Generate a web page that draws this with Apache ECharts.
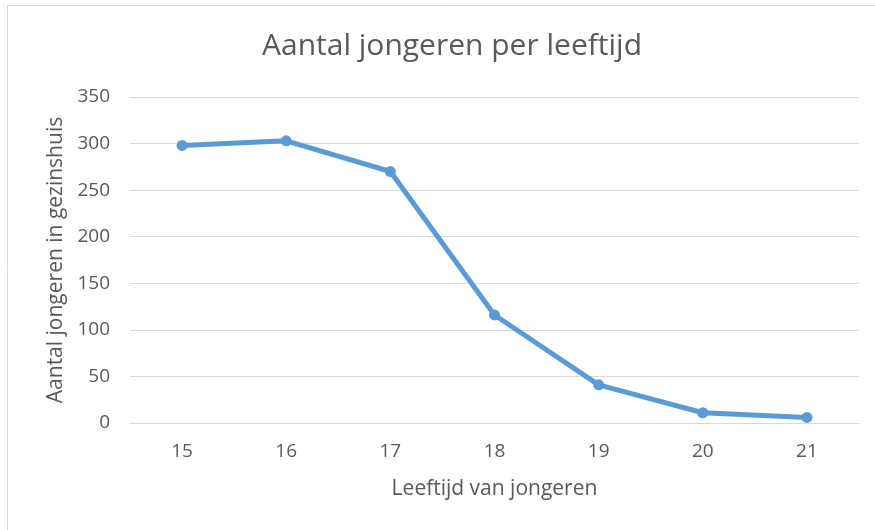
<!DOCTYPE html>
<html>
<head>
<meta charset="utf-8">
<script src="https://cdn.jsdelivr.net/npm/echarts@6/dist/echarts.min.js"></script>
<style>
html,body{margin:0;padding:0;background:#fff;}
#chart{width:875px;height:530px;}
</style>
</head>
<body>
<div id="chart"></div>
<script>
const categories = ['15', '16', '17', '18', '19', '20', '21'];
const values = [298, 303, 270, 116, 41, 11, 6];
const titleText = 'Aantal jongeren per leeftijd';
const xName = 'Leeftijd van jongeren';
const yName = 'Aantal jongeren in gezinshuis';

const chart = echarts.init(document.getElementById('chart'));
const font = 'Open Sans';
chart.setOption({
  backgroundColor: '#ffffff',
  animation: false,
  graphic: [{
    type: 'rect',
    shape: { x: 7.5, y: 5.5, width: 900, height: 600 },
    style: { fill: 'none', stroke: '#d9d9d9', lineWidth: 1 },
    silent: true
  }],
  title: {
    text: titleText,
    left: 447,
    top: 26,
    textAlign: 'center',
    textStyle: { fontFamily: font, fontSize: 30, fontWeight: 'normal', color: '#595959' }
  },
  grid: { left: 130, right: 16, top: 97, bottom: 107 },
  xAxis: {
    type: 'category',
    data: categories,
    boundaryGap: true,
    name: xName,
    nameLocation: 'middle',
    nameGap: 56,
    nameTextStyle: { fontFamily: font, fontSize: 21, color: '#595959' },
    axisLine: { show: true, lineStyle: { color: '#d9d9d9' } },
    axisTick: { show: false },
    axisLabel: { fontFamily: font, fontSize: 19, color: '#595959', margin: 19 }
  },
  yAxis: {
    type: 'value',
    min: 0,
    max: 350,
    interval: 50,
    name: yName,
    nameLocation: 'middle',
    nameGap: 59,
    nameTextStyle: { fontFamily: font, fontSize: 21, color: '#595959' },
    axisLine: { show: false },
    axisTick: { show: false },
    axisLabel: { fontFamily: font, fontSize: 19, color: '#595959', margin: 20 },
    splitLine: { lineStyle: { color: '#d9d9d9', width: 1 } }
  },
  series: [{
    type: 'line',
    data: values,
    symbol: 'circle',
    symbolSize: 11,
    lineStyle: { color: '#5B9BD5', width: 5 },
    itemStyle: { color: '#5B9BD5' }
  }]
});
</script>
</body>
</html>
